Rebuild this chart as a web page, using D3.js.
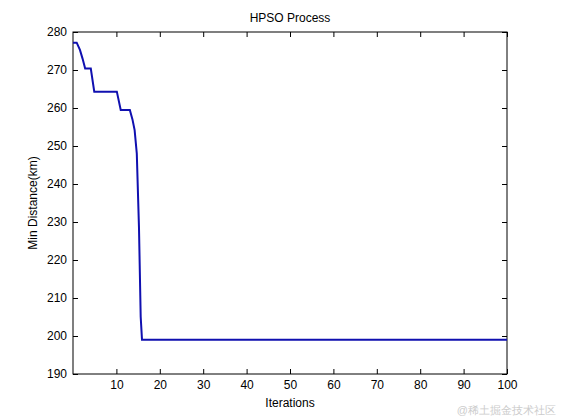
<!DOCTYPE html><html><head><meta charset="utf-8"><script src="https://d3js.org/d3.v7.min.js"></script>
<style>body{margin:0;background:#fff}text{font-family:Arial,"Liberation Sans",sans-serif}</style></head><body>
<svg id="c" width="561" height="420"></svg>
<script>
const iters = [0,0.85,1.6,2.2,2.8,4.1,4.9,10.1,11,13.1,13.7,14.2,14.7,15.2,15.6,15.9,100];
const minDist = [277.2,277.2,275.3,273,270.4,270.4,264.3,264.3,259.5,259.5,257,254.2,248,228.7,205,199,199];
const xTicks = [10,20,30,40,50,60,70,80,90,100];
const yTicks = [190,200,210,220,230,240,250,260,270,280];
const svg = d3.select("#c");
const m = {l:73,r:507,t:32,b:374};
const x = d3.scaleLinear().domain([0,100]).range([m.l,m.r]);
const y = d3.scaleLinear().domain([190,280]).range([m.b,m.t]);
svg.append("rect").attr("x",m.l).attr("y",m.t).attr("width",m.r-m.l).attr("height",m.b-m.t).attr("fill","#fff").attr("stroke","#000");
svg.append("g").attr("transform",`translate(0,${m.b})`).call(d3.axisBottom(x).tickValues(xTicks).tickSizeInner(-5).tickSizeOuter(0).tickPadding(6));
svg.append("g").attr("transform",`translate(${m.l},0)`).call(d3.axisLeft(y).tickValues(yTicks).tickSizeInner(-5).tickSizeOuter(0).tickPadding(6));
svg.append("g").attr("transform",`translate(0,${m.t})`).call(d3.axisTop(x).tickValues(xTicks).tickSizeInner(-5).tickSizeOuter(0).tickFormat(""));
svg.append("g").attr("transform",`translate(${m.r},0)`).call(d3.axisRight(y).tickValues(yTicks).tickSizeInner(-5).tickSizeOuter(0).tickFormat(""));
svg.selectAll(".domain").remove();
svg.selectAll(".tick text").attr("font-size",12).attr("fill","#000");
svg.append("path").datum(iters.map((d,i)=>[d,minDist[i]]))
 .attr("d",d3.line().x(d=>x(d[0])).y(d=>y(d[1])))
 .attr("fill","none").attr("stroke","#1010b0").attr("stroke-width",2);
svg.append("text").attr("x",(m.l+m.r)/2).attr("y",22).attr("text-anchor","middle").attr("font-size",12).text("HPSO Process");
svg.append("text").attr("x",(m.l+m.r)/2).attr("y",407).attr("text-anchor","middle").attr("font-size",12).text("Iterations");
svg.append("text").attr("transform",`translate(37,${(m.t+m.b)/2}) rotate(-90)`).attr("text-anchor","middle").attr("font-size",12).text("Min Distance(km)");
svg.append("text").attr("x",556).attr("y",414).attr("text-anchor","end").attr("font-size",11).attr("fill","#ccc").text("@稀土掘金技术社区");
</script></body></html>
